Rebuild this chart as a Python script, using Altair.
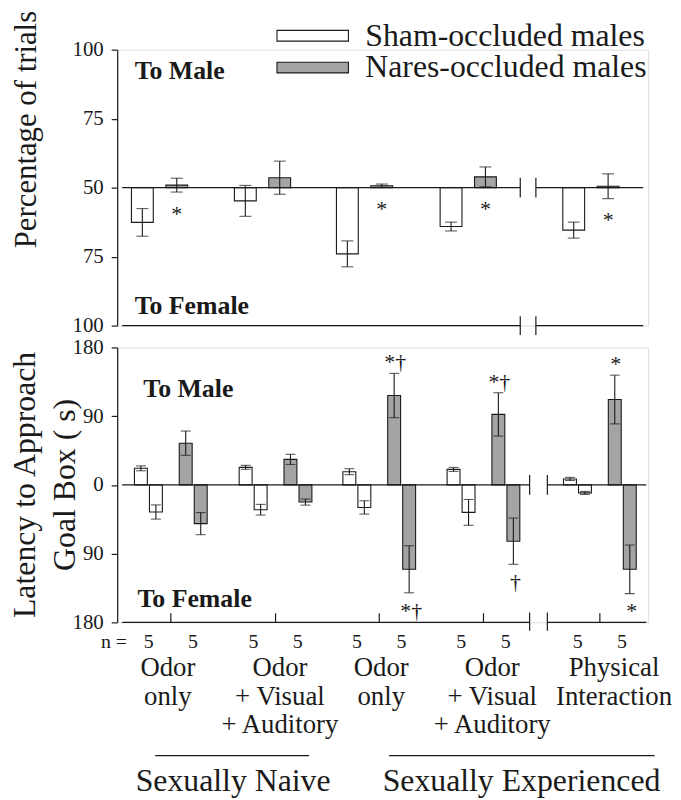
import altair as alt
import numpy as np
import pandas as pd

FONT = "Liberation Serif"
INK = "#1a1a1a"
GRAY = "#a4a4a4"

# ---------------- data ----------------
groups = ["Sham-occluded males", "Nares-occluded males"]
cond_labels = ["Odor\nonly", "Odor\n+ Visual\n+ Auditory", "Odor\nonly",
               "Odor\n+ Visual\n+ Auditory", "Physical\nInteraction"]
experience = ["Sexually Naive", "Sexually Experienced"]
n_sham = [5, 5, 5, 5, 5]
n_nares = [5, 5, 5, 5, 5]

# top panel: percentage of trials (value = % to male, 50 = no preference)
pct_sham = [37.4, 45.2, 26.0, 35.9, 34.6]
pct_sham_err = [5.0, 5.6, 4.7, 1.6, 2.9]
pct_nares = [50.9, 53.6, 50.7, 53.9, 50.5]
pct_nares_err = [2.5, 6.0, 0.6, 3.6, 4.5]
pct_nares_sig = ["*", "", "*", "*", "*"]

# bottom panel: latency to approach goal box (s)
lat_sham_male = [21.7, 23.0, 17.3, 20.3, 7.8]
lat_sham_male_err = [3.2, 2.6, 3.9, 2.6, 2.0]
lat_sham_female = [35.5, 32.5, 29.5, 36.0, 10.5]
lat_sham_female_err = [9.3, 7.0, 8.7, 16.9, 2.0]
lat_nares_male = [54.6, 33.4, 117.0, 92.3, 111.8]
lat_nares_male_err = [15.9, 6.7, 29.0, 28.4, 31.9]
lat_nares_female = [50.7, 22.5, 110.5, 73.7, 110.5]
lat_nares_female_err = [14.5, 4.0, 30.8, 30.3, 31.9]
lat_nares_male_sig = ["", "", "*\u2020", "*\u2020", "*"]
lat_nares_female_sig = ["", "", "*\u2020", "\u2020", "*"]

# ---------------- layout (x in group units) ----------------
W, H_TOP, H_BOT = 535, 278, 277
XDOM = [0, 5]
top_pos = [0.359, 1.347, 2.326, 3.321, 4.498]
bot_pos = [0.467, 1.472, 2.467, 3.467, 4.584]
label_x = [0.439, 1.514, 2.486, 3.551, 4.72]
top_break = [3.82, 3.97]
bot_break = [3.91, 4.08]

xs = alt.Scale(domain=XDOM, nice=False, zero=False)
ys_top = alt.Scale(domain=[0, 100], nice=False, zero=False)
ys_bot = alt.Scale(domain=[-180, 180], nice=False, zero=False)


def y_axis(values, expr, title, tx, ty, tsize):
    return alt.Axis(values=values, labelExpr=expr, title=title, titleX=tx, titleY=ty,
                    titleAngle=270, titleAlign="center", titleBaseline="alphabetic",
                    titleFont=FONT, titleFontSize=tsize, titleFontWeight="normal",
                    titleColor=INK, titleLineHeight=40, labelFont=FONT, labelFontSize=21,
                    labelColor=INK, labelPadding=8, tickSize=6, tickWidth=1.2,
                    tickColor=INK, domainColor=INK, domainWidth=1.2, grid=False)


ax_top = y_axis([0, 25, 50, 75, 100], "datum.value >= 50 ? datum.value : 100 - datum.value",
                "Percentage of trials", -82, 80, 31)
ax_bot = y_axis([-180, -90, 0, 90, 180], "abs(datum.value)",
                ["Latency to Approach", "Goal Box ( s)"], -83, 138, 32)

fill_scale = alt.Scale(domain=groups, range=["#ffffff", GRAY])

# ---------------- top panel ----------------
rows = []
for i in range(5):
    rows.append(dict(group=groups[0], x=top_pos[i] - 0.165, value=pct_sham[i],
                     err=pct_sham_err[i], sig=""))
    rows.append(dict(group=groups[1], x=top_pos[i] + 0.165, value=pct_nares[i],
                     err=pct_nares_err[i], sig=pct_nares_sig[i]))
tdf = pd.DataFrame(rows)
tdf["lo"] = tdf["value"] - tdf["err"]
tdf["hi"] = tdf["value"] + tdf["err"]
tdf["low_end"] = np.minimum(50, tdf["lo"])

X = alt.X("x:Q", scale=xs, axis=None)
legend = alt.Legend(title=None, orient="none", legendX=181, legendY=-30,
                    symbolType="M-4,-0.6H4V0.6H-4Z", symbolSize=324,
                    symbolStrokeColor=INK, symbolStrokeWidth=1.1, symbolOpacity=1,
                    labelFont=FONT, labelFontSize=32, labelColor=INK, labelOffset=37,
                    rowPadding=0, padding=0, labelLimit=500)

base_t = alt.Chart(tdf)
t_bars = base_t.mark_bar(size=22, stroke=INK, strokeWidth=1.1).encode(
    x=X, y=alt.Y("value:Q", scale=ys_top, axis=ax_top), y2=alt.datum(50),
    fill=alt.Fill("group:N", scale=fill_scale, legend=legend))
t_err = base_t.mark_rule(color=INK, strokeWidth=1.1).encode(
    x=X, y=alt.Y("lo:Q", scale=ys_top, axis=ax_top), y2="hi:Q")
t_cap1 = base_t.mark_tick(orient="horizontal", size=12, thickness=1.1, color=INK).encode(
    x=X, y=alt.Y("lo:Q", scale=ys_top, axis=ax_top))
t_cap2 = base_t.mark_tick(orient="horizontal", size=12, thickness=1.1, color=INK).encode(
    x=X, y=alt.Y("hi:Q", scale=ys_top, axis=ax_top))
t_sig = base_t.mark_text(font=FONT, fontSize=22, color=INK, baseline="alphabetic",
                         dy=29).encode(
    x=X, y=alt.Y("low_end:Q", scale=ys_top, axis=ax_top), text="sig:N")

seg_t = pd.DataFrame({"x0": [0, top_break[1]], "x1": [top_break[0], 5.0]})
t_zero = alt.Chart(seg_t).mark_rule(color=INK, strokeWidth=1.2).encode(
    x=alt.X("x0:Q", scale=xs, axis=None), x2="x1:Q",
    y=alt.Y(datum=50, scale=ys_top, axis=ax_top))
t_base = alt.Chart(seg_t).mark_rule(color=INK, strokeWidth=1.2).encode(
    x=alt.X("x0:Q", scale=xs, axis=None), x2="x1:Q",
    y=alt.Y(datum=0, scale=ys_top, axis=ax_top))
brk_t = pd.DataFrame({"x": top_break * 2, "y0": [46.4, 46.4, -3.4, -3.4],
                      "y1": [53.6, 53.6, 3.4, 3.4]})
t_brk = alt.Chart(brk_t).mark_rule(color=INK, strokeWidth=1.2).encode(
    x=alt.X("x:Q", scale=xs, axis=None), y=alt.Y("y0:Q", scale=ys_top, axis=ax_top), y2="y1:Q")
lab_t = pd.DataFrame({"t": ["To Male", "To Female"], "x": [0.12, 0.12], "y": [92.4, 7.2]})
t_lab = alt.Chart(lab_t).mark_text(font=FONT, fontSize=26, fontWeight="bold", color=INK,
                                   align="left", baseline="middle").encode(
    x=alt.X("x:Q", scale=xs, axis=None), y=alt.Y("y:Q", scale=ys_top, axis=ax_top), text="t:N")

top = alt.layer(t_bars, t_zero, t_base, t_brk, t_err, t_cap1, t_cap2, t_sig, t_lab).properties(
    width=W, height=H_TOP)

# ---------------- bottom panel ----------------
offs = [-0.287, -0.143, 0.143, 0.287]
rows = []
for i in range(5):
    rows.append(dict(group=groups[0], dir="m", x=bot_pos[i] + offs[0], value=lat_sham_male[i],
                     err=lat_sham_male_err[i], sig=""))
    rows.append(dict(group=groups[0], dir="f", x=bot_pos[i] + offs[1], value=-lat_sham_female[i],
                     err=lat_sham_female_err[i], sig=""))
    rows.append(dict(group=groups[1], dir="m", x=bot_pos[i] + offs[2], value=lat_nares_male[i],
                     err=lat_nares_male_err[i], sig=lat_nares_male_sig[i]))
    rows.append(dict(group=groups[1], dir="f", x=bot_pos[i] + offs[3], value=-lat_nares_female[i],
                     err=lat_nares_female_err[i], sig=lat_nares_female_sig[i]))
bdf = pd.DataFrame(rows)
bdf["lo"] = bdf["value"] - bdf["err"]
bdf["hi"] = bdf["value"] + bdf["err"]

YB = lambda f: alt.Y(f, scale=ys_bot, axis=ax_bot)
base_b = alt.Chart(bdf)
b_bars = base_b.mark_bar(size=13, stroke=INK, strokeWidth=1.1).encode(
    x=X, y=YB("value:Q"), y2=alt.datum(0),
    fill=alt.Fill("group:N", scale=fill_scale, legend=None))
b_err = base_b.mark_rule(color=INK, strokeWidth=1.1).encode(x=X, y=YB("lo:Q"), y2="hi:Q")
b_cap1 = base_b.mark_tick(orient="horizontal", size=10, thickness=1.1, color=INK).encode(
    x=X, y=YB("lo:Q"))
b_cap2 = base_b.mark_tick(orient="horizontal", size=10, thickness=1.1, color=INK).encode(
    x=X, y=YB("hi:Q"))
b_sig_up = base_b.transform_filter("datum.dir == 'm'").mark_text(
    font=FONT, fontSize=22, color=INK, baseline="alphabetic", dy=-4, dx=1).encode(
    x=X, y=YB("hi:Q"), text="sig:N")
b_sig_dn = base_b.transform_filter("datum.dir == 'f'").mark_text(
    font=FONT, fontSize=22, color=INK, baseline="alphabetic", dy=25, dx=2).encode(
    x=X, y=YB("lo:Q"), text="sig:N")

seg_b = pd.DataFrame({"x0": [0, bot_break[1]], "x1": [bot_break[0], 5.03]})
b_zero = alt.Chart(seg_b).mark_rule(color=INK, strokeWidth=1.2).encode(
    x=alt.X("x0:Q", scale=xs, axis=None), x2="x1:Q", y=alt.Y(datum=0, scale=ys_bot, axis=ax_bot))
b_base = alt.Chart(seg_b).mark_rule(color=INK, strokeWidth=1.2).encode(
    x=alt.X("x0:Q", scale=xs, axis=None), x2="x1:Q", y=alt.Y(datum=-180, scale=ys_bot, axis=ax_bot))
brk_b = pd.DataFrame({"x": bot_break * 2, "y0": [-13, -13, -191, -191],
                      "y1": [13, 13, -167, -167]})
b_brk = alt.Chart(brk_b).mark_rule(color=INK, strokeWidth=1.2).encode(
    x=alt.X("x:Q", scale=xs, axis=None), y=YB("y0:Q"), y2="y1:Q")
tick_b = pd.DataFrame({"x": bot_pos})
b_ticks = alt.Chart(tick_b).mark_rule(color=INK, strokeWidth=1.2).encode(
    x=alt.X("x:Q", scale=xs, axis=None), y=alt.Y(datum=-180, scale=ys_bot, axis=ax_bot),
    y2=alt.datum(-168))
lab_b = pd.DataFrame({"t": ["To Male", "To Female"], "x": [0.203, 0.147], "y": [125.7, -149.5]})
b_lab = alt.Chart(lab_b).mark_text(font=FONT, fontSize=26, fontWeight="bold", color=INK,
                                   align="left", baseline="middle").encode(
    x=alt.X("x:Q", scale=xs, axis=None), y=YB("y:Q"), text="t:N")

# n row
n_rows = [dict(t="n =", x=0.047, a="right")]
for i in range(5):
    n_rows.append(dict(t=str(n_sham[i]), x=bot_pos[i] - 0.213, a="center"))
    n_rows.append(dict(t=str(n_nares[i]), x=bot_pos[i] + 0.213, a="center"))
ndf = pd.DataFrame(n_rows)
b_n_right = alt.Chart(ndf[ndf.a == "right"]).mark_text(
    font=FONT, fontSize=20, color=INK, align="right", baseline="middle").encode(
    x=alt.X("x:Q", scale=xs, axis=None), y=alt.Y(datum=-206, scale=ys_bot, axis=ax_bot), text="t:N")
b_n = alt.Chart(ndf[ndf.a == "center"]).mark_text(
    font=FONT, fontSize=20, color=INK, align="center", baseline="middle").encode(
    x=alt.X("x:Q", scale=xs, axis=None), y=alt.Y(datum=-206, scale=ys_bot, axis=ax_bot), text="t:N")

cdf = pd.DataFrame({"t": cond_labels, "x": label_x})
b_cond = alt.Chart(cdf).mark_text(font=FONT, fontSize=27, color=INK, align="center",
                                  baseline="alphabetic", lineBreak="\n", lineHeight=29).encode(
    x=alt.X("x:Q", scale=xs, axis=None), y=alt.Y(datum=-250, scale=ys_bot, axis=ax_bot), text="t:N")

edf = pd.DataFrame({"t": experience, "x0": [0.318, 2.561], "x1": [1.794, 5.109],
                    "xc": [1.065, 3.832]})
b_eline = alt.Chart(edf).mark_rule(color=INK, strokeWidth=1.2).encode(
    x=alt.X("x0:Q", scale=xs, axis=None), x2="x1:Q", y=alt.Y(datum=-354.5, scale=ys_bot, axis=ax_bot))
b_etext = alt.Chart(edf).mark_text(font=FONT, fontSize=32, color=INK, align="center",
                                   baseline="alphabetic").encode(
    x=alt.X("xc:Q", scale=xs, axis=None), y=alt.Y(datum=-401, scale=ys_bot, axis=ax_bot), text="t:N")

bottom = alt.layer(b_bars, b_zero, b_base, b_brk, b_ticks, b_err, b_cap1, b_cap2, b_sig_up,
                   b_sig_dn, b_lab, b_n_right, b_n, b_cond, b_eline, b_etext).properties(
    width=W, height=H_BOT)

chart = alt.vconcat(top, bottom, spacing=22, bounds="flush").resolve_scale(
    fill="independent").properties(
    padding={"left": 0, "top": -2, "right": 0, "bottom": 0}
).configure_view(stroke=None).configure(background="white")

chart.save("out.html", embed_options={"renderer": "svg", "actions": False})
